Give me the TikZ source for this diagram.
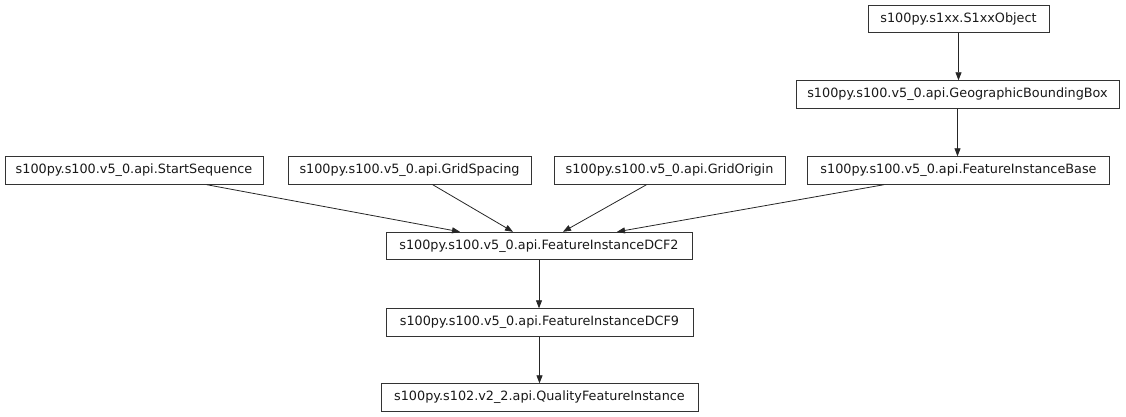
\documentclass[tikz,border=0pt]{standalone}
\usepackage{fontspec}
\setmainfont{DejaVu Sans}
\usetikzlibrary{arrows.meta}
\tikzset{
  cls/.style={draw=black!80, line width=0.9pt, fill=white, inner sep=0pt,
    minimum height=27.5pt, font=\fontsize{12.8}{15}\selectfont, text=black!90},
  edge/.style={draw=black!85, line width=0.8pt, -{Triangle[length=8pt,width=6pt]}}
}
\begin{document}
\begin{tikzpicture}[x=1pt,y=-1pt]
\useasboundingbox (0,0) rectangle (1126,417);
\node[cls, minimum width=181pt] (s1xx) at (958.5,18.8) {s100py.s1xx.S1xxObject};
\node[cls, minimum width=323pt] (gbb) at (957.5,94.5) {s100py.s100.v5\_0.api.GeographicBoundingBox};
\node[cls, minimum width=302pt] (fib) at (958.5,170.5) {s100py.s100.v5\_0.api.FeatureInstanceBase};
\node[cls, minimum width=258pt] (ss) at (134,170.5) {s100py.s100.v5\_0.api.StartSequence};
\node[cls, minimum width=243pt] (gs) at (409.5,170.5) {s100py.s100.v5\_0.api.GridSpacing};
\node[cls, minimum width=231pt] (go) at (669.5,170.5) {s100py.s100.v5\_0.api.GridOrigin};
\node[cls, minimum width=306pt] (dcf2) at (539,246) {s100py.s100.v5\_0.api.FeatureInstanceDCF2};
\node[cls, minimum width=307pt] (dcf9) at (539.5,322.5) {s100py.s100.v5\_0.api.FeatureInstanceDCF9};
\node[cls, minimum width=317pt] (qfi) at (539.5,397.5) {s100py.s102.v2\_2.api.QualityFeatureInstance};
\draw[edge] (s1xx) -- (s1xx |- gbb.north);
\draw[edge] (gbb) -- (gbb |- fib.north);
\draw[edge] ([xshift=72.7pt]ss.south) -- ([xshift=-79pt]dcf2.north);
\draw[edge] ([xshift=23.2pt]gs.south) -- ([xshift=-26pt]dcf2.north);
\draw[edge] ([xshift=-23pt]go.south) -- ([xshift=24pt]dcf2.north);
\draw[edge] ([xshift=-74.5pt]fib.south) -- ([xshift=78pt]dcf2.north);
\draw[edge] (dcf2.south) -- (dcf2.south |- dcf9.north);
\draw[edge] (dcf9.south) -- (dcf9.south |- qfi.north);
\end{tikzpicture}
\end{document}
